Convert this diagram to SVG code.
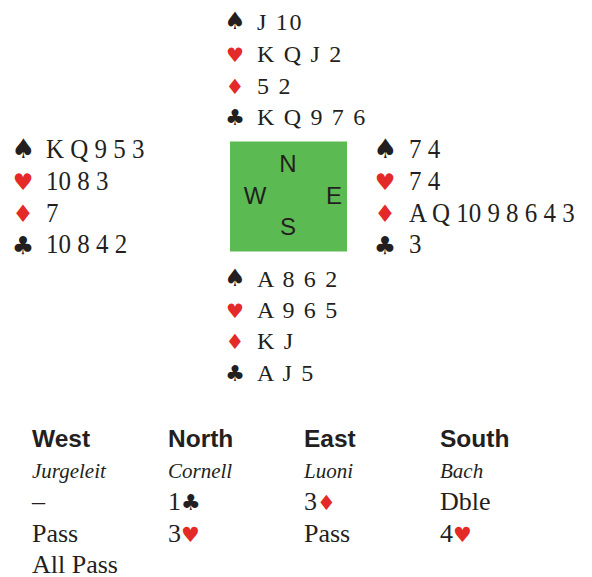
<svg xmlns="http://www.w3.org/2000/svg" width="592" height="577" viewBox="0 0 592 577">
<style>
.t{font-family:"Liberation Serif","Times New Roman",serif;fill:#231f20}
.ns{font-size:24px;letter-spacing:1.7px}
.we{font-size:27px}
.s{font-family:"DejaVu Sans",sans-serif;text-anchor:middle;fill:#231f20}
.sp1{font-size:24px}.he1{font-size:20px}.di1{font-size:21px}.cl1{font-size:22px}
.sp2{font-size:27px}.he2{font-size:23px}.di2{font-size:24px}.cl2{font-size:25px}
.r{fill:#e42a28}
.c{font-family:"Liberation Sans",Arial,sans-serif;font-size:24px;fill:#231f20;text-anchor:middle}
.h{font-family:"Liberation Sans",Arial,sans-serif;font-size:24.5px;font-weight:bold;fill:#231f20}
.n{font-family:"Liberation Serif","Times New Roman",serif;font-size:21px;font-style:italic;fill:#231f20}
.a{font-family:"Liberation Serif","Times New Roman",serif;font-size:26px;fill:#231f20}
.as{font-family:"DejaVu Sans",sans-serif;font-size:21px}
.ac{font-family:"DejaVu Sans",sans-serif;font-size:22px}
</style>
<g id="north">
<text class="s sp1" x="235" y="29">♠</text><text class="t ns" x="257" y="30">J 10</text>
<text class="s he1 r" x="235" y="62">♥</text><text class="t ns" x="257" y="62">K Q J 2</text>
<text class="s di1 r" x="235" y="93.5">♦</text><text class="t ns" x="257" y="93.5">5 2</text>
<text class="s cl1" x="235" y="125">♣</text><text class="t ns" x="257" y="125">K Q 9 7 6</text>
</g>
<g id="west">
<text class="s sp2" x="23" y="157.5">♠</text><g transform="translate(46,0) scale(0.925,1)"><text class="t we" x="0" y="158">K Q 9 5 3</text></g>
<text class="s he2 r" x="23" y="190">♥</text><g transform="translate(46,0) scale(0.925,1)"><text class="t we" x="0" y="190">10 8 3</text></g>
<text class="s di2 r" x="23" y="222">♦</text><g transform="translate(46,0) scale(0.925,1)"><text class="t we" x="0" y="222">7</text></g>
<text class="s cl2" x="23" y="253.5">♣</text><g transform="translate(46,0) scale(0.925,1)"><text class="t we" x="0" y="253.5">10 8 4 2</text></g>
</g>
<g id="east">
<text class="s sp2" x="385" y="157.5">♠</text><g transform="translate(409,0) scale(0.925,1)"><text class="t we" x="0" y="158">7 4</text></g>
<text class="s he2 r" x="385" y="190">♥</text><g transform="translate(409,0) scale(0.925,1)"><text class="t we" x="0" y="190">7 4</text></g>
<text class="s di2 r" x="385" y="222">♦</text><g transform="translate(409,0) scale(0.925,1)"><text class="t we" x="0" y="222">A Q 10 9 8 6 4 3</text></g>
<text class="s cl2" x="385" y="253.5">♣</text><g transform="translate(409,0) scale(0.925,1)"><text class="t we" x="0" y="253.5">3</text></g>
</g>
<g id="table">
<rect x="230" y="141.5" width="117" height="110" fill="#5cba52"/>
<text class="c" x="288" y="171.5">N</text>
<text class="c" x="255" y="204">W</text>
<text class="c" x="334" y="204">E</text>
<text class="c" x="288" y="235">S</text>
</g>
<g id="south">
<text class="s sp1" x="235" y="286">♠</text><text class="t ns" x="257" y="286.5">A 8 6 2</text>
<text class="s he1 r" x="235" y="318">♥</text><text class="t ns" x="257" y="318">A 9 6 5</text>
<text class="s di1 r" x="235" y="349">♦</text><text class="t ns" x="257" y="349">K J</text>
<text class="s cl1" x="235" y="380.5">♣</text><text class="t ns" x="257" y="380.5">A J 5</text>
</g>
<g id="auction">
<text class="h" x="32" y="446.5">West</text>
<text class="h" x="168" y="446.5">North</text>
<text class="h" x="304" y="446.5">East</text>
<text class="h" x="440" y="446.5">South</text>
<text class="n" x="32" y="478">Jurgeleit</text>
<text class="n" x="168" y="478">Cornell</text>
<text class="n" x="304" y="478">Luoni</text>
<text class="n" x="440" y="478">Bach</text>
<text class="a" x="32" y="510">–</text>
<text class="a" x="168" y="510">1<tspan class="ac">♣</tspan></text>
<text class="a" x="304" y="510">3<tspan class="as r">♦</tspan></text>
<text class="a" x="440" y="510">Dble</text>
<text class="a" x="32" y="541.5">Pass</text>
<text class="a" x="168" y="541.5">3<tspan class="as r">♥</tspan></text>
<text class="a" x="304" y="541.5">Pass</text>
<text class="a" x="440" y="541.5">4<tspan class="as r">♥</tspan></text>
<text class="a" x="32" y="572.5">All Pass</text>
</g>
</svg>
